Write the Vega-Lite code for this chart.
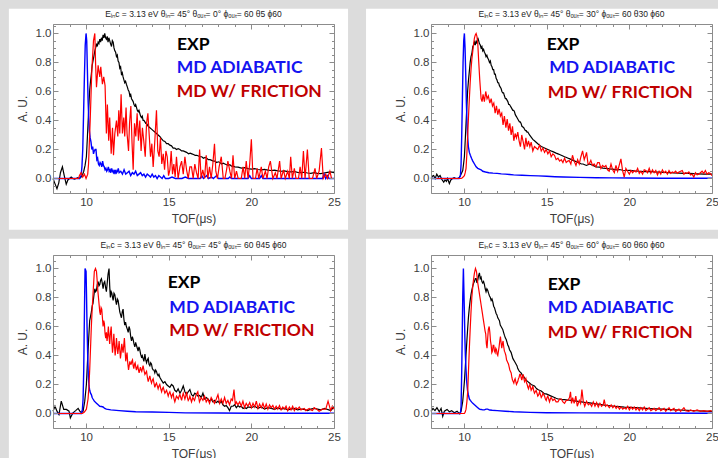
{
"$schema": "https://vega.github.io/schema/vega-lite/v6.json",
"background": "#dcdcdc",
"padding": {"left": 8, "top": 8, "right": 0, "bottom": 0},
"config": {
 "view": {"stroke": null},
 "axis": {"zindex": 2, "grid": false, "domainColor": "#8c8c8c", "tickColor": "#8c8c8c", "labelFont": "Liberation Sans", "labelFontSize": 11.5, "labelColor": "#3c3c3c", "titleFont": "Liberation Sans", "titleFontSize": 12, "titleFontWeight": "normal", "titleColor": "#3c3c3c", "labelFlush": false},
 "title": {"font": "Liberation Sans", "fontSize": 8.5, "fontWeight": "normal", "color": "#222222", "offset": -10}
},
"datasets": {
"lab": [{"p":1,"t":"EXP","x":15.5,"y":0.888},{"p":1,"t":"MD ADIABATIC","x":15.48,"y":0.724},{"p":1,"t":"MD W/ FRICTION","x":15.48,"y":0.559},
{"p":2,"t":"EXP","x":15.0,"y":0.888},{"p":2,"t":"MD ADIABATIC","x":15.15,"y":0.724},{"p":2,"t":"MD W/ FRICTION","x":15.06,"y":0.552},
{"p":3,"t":"EXP","x":14.94,"y":0.862},{"p":3,"t":"MD ADIABATIC","x":15.04,"y":0.695},{"p":3,"t":"MD W/ FRICTION","x":15.04,"y":0.535},
{"p":4,"t":"EXP","x":15.06,"y":0.851},{"p":4,"t":"MD ADIABATIC","x":15.06,"y":0.69},{"p":4,"t":"MD W/ FRICTION","x":15.06,"y":0.518}],
"p1E": [{"x":8,"y":0},{"x":8.1,"y":-0.03},{"x":8.24,"y":-0.07},{"x":8.35,"y":-0.03},{"x":8.45,"y":0.04},{"x":8.57,"y":0.08},{"x":8.68,"y":0.02},{"x":8.8,"y":-0.04},{"x":8.9,"y":-0.01},{"x":9,"y":0},{"x":9.1,"y":0.01},{"x":9.2,"y":0},{"x":9.3,"y":-0.005},{"x":9.4,"y":0},{"x":9.5,"y":0.005},{"x":9.6,"y":0},{"x":9.7,"y":0.01},{"x":9.8,"y":0.03},{"x":9.86,"y":0.05},{"x":9.94,"y":0.09},{"x":10.02,"y":0.15},{"x":10.07,"y":0.26},{"x":10.12,"y":0.38},{"x":10.17,"y":0.5},{"x":10.22,"y":0.61},{"x":10.27,"y":0.67},{"x":10.32,"y":0.72},{"x":10.37,"y":0.78},{"x":10.42,"y":0.81},{"x":10.47,"y":0.84},{"x":10.53,"y":0.88},{"x":10.58,"y":0.9},{"x":10.63,"y":0.93},{"x":10.68,"y":0.91},{"x":10.73,"y":0.94},{"x":10.78,"y":0.93},{"x":10.83,"y":0.96},{"x":10.88,"y":0.94},{"x":10.93,"y":0.97},{"x":10.98,"y":0.95},{"x":11.03,"y":0.99},{"x":11.08,"y":0.97},{"x":11.13,"y":1},{"x":11.18,"y":0.97},{"x":11.23,"y":0.96},{"x":11.28,"y":0.98},{"x":11.33,"y":0.94},{"x":11.38,"y":0.97},{"x":11.43,"y":0.95},{"x":11.48,"y":0.93},{"x":11.54,"y":0.91},{"x":11.59,"y":0.95},{"x":11.64,"y":0.94},{"x":11.69,"y":0.9},{"x":11.74,"y":0.88},{"x":11.79,"y":0.87},{"x":11.84,"y":0.84},{"x":11.89,"y":0.85},{"x":11.94,"y":0.81},{"x":11.99,"y":0.8},{"x":12.04,"y":0.76},{"x":12.09,"y":0.77},{"x":12.14,"y":0.72},{"x":12.19,"y":0.73},{"x":12.24,"y":0.7},{"x":12.29,"y":0.68},{"x":12.34,"y":0.66},{"x":12.39,"y":0.67},{"x":12.44,"y":0.65},{"x":12.5,"y":0.63},{"x":12.55,"y":0.61},{"x":12.6,"y":0.6},{"x":12.65,"y":0.57},{"x":12.7,"y":0.58},{"x":12.75,"y":0.55},{"x":12.8,"y":0.54},{"x":12.85,"y":0.53},{"x":12.9,"y":0.51},{"x":12.95,"y":0.5},{"x":13,"y":0.51},{"x":13.05,"y":0.49},{"x":13.1,"y":0.47},{"x":13.15,"y":0.46},{"x":13.2,"y":0.47},{"x":13.25,"y":0.45},{"x":13.3,"y":0.43},{"x":13.35,"y":0.42},{"x":13.4,"y":0.43},{"x":13.45,"y":0.4},{"x":13.5,"y":0.4},{"x":13.56,"y":0.39},{"x":13.61,"y":0.38},{"x":13.66,"y":0.38},{"x":13.76,"y":0.36},{"x":13.86,"y":0.35},{"x":13.96,"y":0.34},{"x":14.06,"y":0.33},{"x":14.16,"y":0.32},{"x":14.26,"y":0.31},{"x":14.36,"y":0.3},{"x":14.46,"y":0.29},{"x":14.56,"y":0.275},{"x":14.67,"y":0.26},{"x":14.77,"y":0.255},{"x":14.87,"y":0.24},{"x":14.97,"y":0.24},{"x":15.07,"y":0.23},{"x":15.17,"y":0.225},{"x":15.27,"y":0.21},{"x":15.37,"y":0.21},{"x":15.47,"y":0.2},{"x":15.57,"y":0.205},{"x":15.68,"y":0.2},{"x":15.78,"y":0.19},{"x":15.88,"y":0.19},{"x":15.98,"y":0.185},{"x":16.08,"y":0.18},{"x":16.2,"y":0.17},{"x":16.3,"y":0.175},{"x":16.4,"y":0.17},{"x":16.5,"y":0.165},{"x":16.6,"y":0.16},{"x":16.7,"y":0.16},{"x":16.8,"y":0.155},{"x":16.9,"y":0.15},{"x":17,"y":0.15},{"x":17.1,"y":0.14},{"x":17.2,"y":0.145},{"x":17.3,"y":0.14},{"x":17.4,"y":0.13},{"x":17.5,"y":0.13},{"x":17.6,"y":0.125},{"x":17.7,"y":0.12},{"x":17.8,"y":0.12},{"x":17.9,"y":0.11},{"x":18,"y":0.115},{"x":18.1,"y":0.11},{"x":18.2,"y":0.1},{"x":18.3,"y":0.105},{"x":18.4,"y":0.1},{"x":18.5,"y":0.095},{"x":18.6,"y":0.09},{"x":18.7,"y":0.095},{"x":18.8,"y":0.085},{"x":18.9,"y":0.085},{"x":19,"y":0.08},{"x":19.2,"y":0.078},{"x":19.4,"y":0.072},{"x":19.6,"y":0.075},{"x":19.8,"y":0.068},{"x":20,"y":0.065},{"x":20.2,"y":0.068},{"x":20.4,"y":0.062},{"x":20.6,"y":0.06},{"x":20.8,"y":0.063},{"x":21,"y":0.058},{"x":21.2,"y":0.055},{"x":21.4,"y":0.058},{"x":21.6,"y":0.052},{"x":21.8,"y":0.05},{"x":22,"y":0.053},{"x":22.2,"y":0.047},{"x":22.4,"y":0.045},{"x":22.6,"y":0.048},{"x":22.8,"y":0.042},{"x":23,"y":0.04},{"x":23.2,"y":0.043},{"x":23.4,"y":0.038},{"x":23.6,"y":0.036},{"x":23.8,"y":0.04},{"x":24,"y":0.035},{"x":24.2,"y":0.033},{"x":24.4,"y":0.038},{"x":24.6,"y":0.042},{"x":24.8,"y":0.045},{"x":25,"y":0.04}],
"p1A": [{"x":8,"y":0},{"x":9.6,"y":0},{"x":9.7,"y":0.02},{"x":9.75,"y":0.08},{"x":9.8,"y":0.2},{"x":9.85,"y":0.45},{"x":9.9,"y":0.7},{"x":9.95,"y":0.92},{"x":10,"y":1},{"x":10.04,"y":0.95},{"x":10.08,"y":0.75},{"x":10.12,"y":0.55},{"x":10.16,"y":0.42},{"x":10.2,"y":0.33},{"x":10.25,"y":0.28},{"x":10.3,"y":0.25},{"x":10.35,"y":0.2},{"x":10.4,"y":0.22},{"x":10.45,"y":0.17},{"x":10.5,"y":0.19},{"x":10.55,"y":0.2},{"x":10.6,"y":0.2},{"x":10.65,"y":0.13},{"x":10.7,"y":0.14},{"x":10.75,"y":0.1},{"x":10.8,"y":0.09},{"x":10.85,"y":0.11},{"x":10.9,"y":0.1},{"x":10.95,"y":0.08},{"x":11,"y":0.12},{"x":11.05,"y":0.09},{"x":11.1,"y":0.08},{"x":11.15,"y":0.06},{"x":11.2,"y":0.07},{"x":11.25,"y":0.05},{"x":11.3,"y":0.06},{"x":11.35,"y":0.08},{"x":11.4,"y":0.05},{"x":11.45,"y":0.06},{"x":11.5,"y":0.04},{"x":11.55,"y":0.07},{"x":11.6,"y":0.05},{"x":11.65,"y":0.04},{"x":11.7,"y":0.06},{"x":11.75,"y":0.03},{"x":11.8,"y":0.06},{"x":11.85,"y":0.04},{"x":11.9,"y":0.05},{"x":11.95,"y":0.07},{"x":12,"y":0.04},{"x":12.1,"y":0.05},{"x":12.2,"y":0.03},{"x":12.3,"y":0.06},{"x":12.4,"y":0.03},{"x":12.5,"y":0.04},{"x":12.6,"y":0.05},{"x":12.7,"y":0.02},{"x":12.8,"y":0.04},{"x":12.9,"y":0.03},{"x":13,"y":0.05},{"x":13.1,"y":0.02},{"x":13.2,"y":0.03},{"x":13.3,"y":0.04},{"x":13.4,"y":0.02},{"x":13.5,"y":0.03},{"x":13.6,"y":0.01},{"x":13.7,"y":0.03},{"x":13.8,"y":0.02},{"x":13.9,"y":0.01},{"x":14,"y":0.03},{"x":14.1,"y":0.01},{"x":14.2,"y":0.02},{"x":14.3,"y":0},{"x":14.4,"y":0.02},{"x":14.5,"y":0.01},{"x":14.6,"y":0},{"x":14.7,"y":0.02},{"x":14.8,"y":0},{"x":15,"y":0},{"x":15.2,"y":0.01},{"x":15.4,"y":0},{"x":15.8,"y":0},{"x":16,"y":0.01},{"x":16.2,"y":0},{"x":16.9,"y":0},{"x":17,"y":0.02},{"x":17.1,"y":0},{"x":17.3,"y":0.02},{"x":17.4,"y":0},{"x":17.6,"y":0.01},{"x":17.7,"y":0},{"x":17.9,"y":0.02},{"x":18,"y":0},{"x":18.6,"y":0},{"x":18.7,"y":0.01},{"x":18.8,"y":0},{"x":19.8,"y":0},{"x":19.9,"y":0.02},{"x":20,"y":0},{"x":20.5,"y":0},{"x":20.6,"y":0.02},{"x":20.7,"y":0},{"x":24.3,"y":0},{"x":24.4,"y":0.03},{"x":24.5,"y":0},{"x":24.6,"y":0.02},{"x":24.7,"y":0},{"x":25,"y":0}],
"p1F": [{"x":8,"y":0},{"x":9.55,"y":0},{"x":9.6,"y":0.02},{"x":9.7,"y":0.04},{"x":9.8,"y":0.01},{"x":9.9,"y":0.03},{"x":10,"y":0},{"x":10.1,"y":0.03},{"x":10.15,"y":0.1},{"x":10.25,"y":0.4},{"x":10.35,"y":0.75},{"x":10.45,"y":0.95},{"x":10.53,"y":1},{"x":10.58,"y":0.78},{"x":10.63,"y":0.63},{"x":10.73,"y":0.78},{"x":10.83,"y":0.7},{"x":10.89,"y":0.77},{"x":10.99,"y":0.65},{"x":11.07,"y":0.7},{"x":11.15,"y":0.64},{"x":11.23,"y":0.31},{"x":11.29,"y":0.51},{"x":11.37,"y":0.26},{"x":11.43,"y":0.42},{"x":11.52,"y":0.17},{"x":11.6,"y":0.35},{"x":11.66,"y":0.16},{"x":11.74,"y":0.31},{"x":11.84,"y":0.4},{"x":11.92,"y":0.29},{"x":11.98,"y":0.47},{"x":12.04,"y":0.31},{"x":12.12,"y":0.58},{"x":12.2,"y":0.31},{"x":12.28,"y":0.42},{"x":12.34,"y":0.29},{"x":12.42,"y":0.49},{"x":12.48,"y":0.31},{"x":12.57,"y":0.19},{"x":12.63,"y":0.38},{"x":12.71,"y":0.5},{"x":12.78,"y":0.25},{"x":12.85,"y":0.06},{"x":12.93,"y":0.38},{"x":13.01,"y":0.29},{"x":13.09,"y":0.45},{"x":13.17,"y":0.26},{"x":13.25,"y":0.4},{"x":13.33,"y":0.19},{"x":13.41,"y":0.35},{"x":13.49,"y":0.26},{"x":13.58,"y":0.15},{"x":13.66,"y":0.38},{"x":13.74,"y":0.45},{"x":13.82,"y":0.3},{"x":13.9,"y":0.15},{"x":13.98,"y":0.24},{"x":14.06,"y":0.08},{"x":14.16,"y":0.26},{"x":14.26,"y":0.47},{"x":14.34,"y":0.19},{"x":14.42,"y":0.15},{"x":14.5,"y":0.28},{"x":14.58,"y":0.1},{"x":14.67,"y":0.17},{"x":14.75,"y":0.06},{"x":14.83,"y":0.19},{"x":14.91,"y":0.15},{"x":14.99,"y":0.02},{"x":15.07,"y":0.06},{"x":15.15,"y":0.19},{"x":15.23,"y":0.03},{"x":15.31,"y":0.1},{"x":15.39,"y":0.01},{"x":15.47,"y":0.15},{"x":15.57,"y":0},{"x":15.68,"y":0.08},{"x":15.78,"y":0.12},{"x":15.88,"y":0.03},{"x":15.98,"y":0.15},{"x":16.08,"y":0.06},{"x":16.18,"y":0},{"x":16.28,"y":0.08},{"x":16.38,"y":0.08},{"x":16.48,"y":0},{"x":16.58,"y":0.1},{"x":16.68,"y":0.04},{"x":16.78,"y":0},{"x":16.87,"y":0.2},{"x":16.96,"y":0},{"x":17.06,"y":0.06},{"x":17.17,"y":0},{"x":17.27,"y":0.16},{"x":17.37,"y":0},{"x":17.47,"y":0.08},{"x":17.57,"y":0},{"x":17.67,"y":0.1},{"x":17.77,"y":0.24},{"x":17.85,"y":0.05},{"x":17.95,"y":0},{"x":18.05,"y":0.08},{"x":18.18,"y":0.15},{"x":18.3,"y":0},{"x":18.4,"y":0},{"x":18.5,"y":0.06},{"x":18.58,"y":0.12},{"x":18.7,"y":0.05},{"x":18.8,"y":0},{"x":18.89,"y":0.16},{"x":18.99,"y":0},{"x":19.1,"y":0.05},{"x":19.2,"y":0},{"x":19.39,"y":0},{"x":19.5,"y":0.08},{"x":19.6,"y":0},{"x":19.69,"y":0.12},{"x":19.8,"y":0},{"x":19.9,"y":0.1},{"x":20,"y":0.27},{"x":20.1,"y":0},{"x":20.25,"y":0},{"x":20.35,"y":0.07},{"x":20.45,"y":0},{"x":20.6,"y":0.08},{"x":20.7,"y":0},{"x":20.85,"y":0.05},{"x":20.95,"y":0},{"x":21.05,"y":0.08},{"x":21.15,"y":0.12},{"x":21.3,"y":0},{"x":21.45,"y":0.04},{"x":21.55,"y":0},{"x":21.71,"y":0.12},{"x":21.8,"y":0},{"x":21.95,"y":0.06},{"x":22.05,"y":0},{"x":22.2,"y":0.05},{"x":22.3,"y":0},{"x":22.38,"y":0.15},{"x":22.48,"y":0},{"x":22.6,"y":0.07},{"x":22.7,"y":0},{"x":22.85,"y":0},{"x":22.95,"y":0.08},{"x":23.05,"y":0},{"x":23.15,"y":0.19},{"x":23.25,"y":0},{"x":23.39,"y":0.2},{"x":23.5,"y":0},{"x":23.7,"y":0},{"x":23.85,"y":0.07},{"x":23.95,"y":0},{"x":24.1,"y":0.05},{"x":24.24,"y":0.21},{"x":24.35,"y":0},{"x":24.5,"y":0.03},{"x":24.6,"y":0},{"x":24.75,"y":0.05},{"x":24.85,"y":0},{"x":25,"y":0}],
"p2E": [{"x":8,"y":0},{"x":8.08,"y":0.015},{"x":8.16,"y":0.02},{"x":8.25,"y":0},{"x":8.35,"y":0.03},{"x":8.45,"y":0.01},{"x":8.55,"y":0.02},{"x":8.65,"y":-0.005},{"x":8.77,"y":-0.025},{"x":8.85,"y":-0.01},{"x":8.93,"y":-0.02},{"x":9,"y":0},{"x":9.11,"y":-0.035},{"x":9.2,"y":-0.01},{"x":9.3,"y":0},{"x":9.4,"y":0.005},{"x":9.5,"y":0},{"x":9.6,"y":0},{"x":9.7,"y":0.005},{"x":9.78,"y":0.02},{"x":9.86,"y":0.04},{"x":9.92,"y":0.055},{"x":9.97,"y":0.1},{"x":10.02,"y":0.15},{"x":10.07,"y":0.26},{"x":10.12,"y":0.38},{"x":10.17,"y":0.5},{"x":10.22,"y":0.61},{"x":10.27,"y":0.68},{"x":10.32,"y":0.74},{"x":10.37,"y":0.8},{"x":10.42,"y":0.84},{"x":10.47,"y":0.86},{"x":10.53,"y":0.91},{"x":10.58,"y":0.92},{"x":10.63,"y":0.94},{"x":10.68,"y":0.92},{"x":10.73,"y":0.95},{"x":10.78,"y":0.93},{"x":10.83,"y":0.97},{"x":10.88,"y":0.95},{"x":10.93,"y":0.93},{"x":10.98,"y":0.92},{"x":11.03,"y":0.9},{"x":11.08,"y":0.91},{"x":11.13,"y":0.88},{"x":11.18,"y":0.89},{"x":11.23,"y":0.87},{"x":11.28,"y":0.86},{"x":11.33,"y":0.84},{"x":11.38,"y":0.85},{"x":11.43,"y":0.83},{"x":11.48,"y":0.82},{"x":11.54,"y":0.8},{"x":11.59,"y":0.81},{"x":11.64,"y":0.78},{"x":11.69,"y":0.77},{"x":11.74,"y":0.75},{"x":11.79,"y":0.75},{"x":11.84,"y":0.72},{"x":11.89,"y":0.72},{"x":11.94,"y":0.69},{"x":11.99,"y":0.68},{"x":12.04,"y":0.66},{"x":12.09,"y":0.66},{"x":12.14,"y":0.64},{"x":12.19,"y":0.63},{"x":12.24,"y":0.62},{"x":12.29,"y":0.6},{"x":12.34,"y":0.59},{"x":12.39,"y":0.59},{"x":12.44,"y":0.57},{"x":12.5,"y":0.55},{"x":12.55,"y":0.55},{"x":12.6,"y":0.54},{"x":12.65,"y":0.53},{"x":12.7,"y":0.51},{"x":12.75,"y":0.51},{"x":12.8,"y":0.5},{"x":12.85,"y":0.49},{"x":12.9,"y":0.48},{"x":12.95,"y":0.47},{"x":13,"y":0.47},{"x":13.05,"y":0.46},{"x":13.1,"y":0.44},{"x":13.15,"y":0.43},{"x":13.2,"y":0.42},{"x":13.25,"y":0.41},{"x":13.3,"y":0.4},{"x":13.35,"y":0.39},{"x":13.4,"y":0.39},{"x":13.45,"y":0.38},{"x":13.5,"y":0.36},{"x":13.56,"y":0.355},{"x":13.61,"y":0.35},{"x":13.66,"y":0.34},{"x":13.71,"y":0.33},{"x":13.76,"y":0.33},{"x":13.81,"y":0.32},{"x":13.86,"y":0.32},{"x":13.96,"y":0.3},{"x":14.06,"y":0.285},{"x":14.16,"y":0.27},{"x":14.26,"y":0.26},{"x":14.36,"y":0.25},{"x":14.46,"y":0.24},{"x":14.56,"y":0.23},{"x":14.67,"y":0.22},{"x":14.77,"y":0.215},{"x":14.87,"y":0.21},{"x":14.97,"y":0.205},{"x":15.07,"y":0.2},{"x":15.17,"y":0.195},{"x":15.27,"y":0.19},{"x":15.37,"y":0.185},{"x":15.47,"y":0.18},{"x":15.57,"y":0.175},{"x":15.68,"y":0.17},{"x":15.78,"y":0.165},{"x":15.88,"y":0.16},{"x":15.98,"y":0.155},{"x":16.08,"y":0.15},{"x":16.2,"y":0.145},{"x":16.3,"y":0.14},{"x":16.4,"y":0.135},{"x":16.5,"y":0.13},{"x":16.6,"y":0.125},{"x":16.7,"y":0.12},{"x":16.8,"y":0.115},{"x":16.9,"y":0.11},{"x":17,"y":0.105},{"x":17.1,"y":0.1},{"x":17.2,"y":0.1},{"x":17.3,"y":0.095},{"x":17.4,"y":0.09},{"x":17.5,"y":0.095},{"x":17.6,"y":0.1},{"x":17.7,"y":0.095},{"x":17.8,"y":0.09},{"x":17.9,"y":0.085},{"x":18,"y":0.08},{"x":18.2,"y":0.078},{"x":18.4,"y":0.072},{"x":18.6,"y":0.07},{"x":18.8,"y":0.066},{"x":19,"y":0.064},{"x":19.2,"y":0.06},{"x":19.4,"y":0.062},{"x":19.6,"y":0.057},{"x":19.8,"y":0.055},{"x":20,"y":0.056},{"x":20.3,"y":0.052},{"x":20.6,"y":0.05},{"x":20.9,"y":0.048},{"x":21.2,"y":0.049},{"x":21.5,"y":0.045},{"x":21.8,"y":0.044},{"x":22.1,"y":0.042},{"x":22.4,"y":0.041},{"x":22.7,"y":0.038},{"x":23,"y":0.037},{"x":23.3,"y":0.035},{"x":23.6,"y":0.036},{"x":23.9,"y":0.033},{"x":24.2,"y":0.032},{"x":24.5,"y":0.03},{"x":24.8,"y":0.031},{"x":25,"y":0.03}],
"p2A": [{"x":8,"y":0},{"x":9.7,"y":0},{"x":9.78,"y":0.02},{"x":9.82,"y":0.1},{"x":9.86,"y":0.3},{"x":9.9,"y":0.55},{"x":9.94,"y":0.8},{"x":9.98,"y":0.95},{"x":10.02,"y":1},{"x":10.06,"y":0.9},{"x":10.1,"y":0.72},{"x":10.14,"y":0.52},{"x":10.18,"y":0.38},{"x":10.22,"y":0.28},{"x":10.26,"y":0.22},{"x":10.32,"y":0.18},{"x":10.38,"y":0.16},{"x":10.45,"y":0.14},{"x":10.53,"y":0.12},{"x":10.63,"y":0.1},{"x":10.73,"y":0.08},{"x":10.83,"y":0.07},{"x":10.93,"y":0.065},{"x":11.03,"y":0.06},{"x":11.13,"y":0.05},{"x":11.3,"y":0.045},{"x":11.5,"y":0.04},{"x":11.75,"y":0.037},{"x":12,"y":0.035},{"x":12.25,"y":0.032},{"x":12.5,"y":0.03},{"x":12.75,"y":0.028},{"x":13,"y":0.025},{"x":13.5,"y":0.022},{"x":14,"y":0.02},{"x":14.5,"y":0.018},{"x":15,"y":0.015},{"x":15.5,"y":0.012},{"x":16,"y":0.01},{"x":17,"y":0.008},{"x":18,"y":0.005},{"x":19,"y":0.004},{"x":20,"y":0.003},{"x":22,"y":0.002},{"x":25,"y":0.002}],
"p2F": [{"x":8,"y":0},{"x":9.82,"y":0},{"x":9.9,"y":0.005},{"x":10.02,"y":0.02},{"x":10.07,"y":0.04},{"x":10.12,"y":0.07},{"x":10.17,"y":0.17},{"x":10.22,"y":0.3},{"x":10.27,"y":0.43},{"x":10.32,"y":0.55},{"x":10.37,"y":0.66},{"x":10.42,"y":0.75},{"x":10.47,"y":0.82},{"x":10.53,"y":0.88},{"x":10.58,"y":0.93},{"x":10.63,"y":0.97},{"x":10.68,"y":0.99},{"x":10.73,"y":1},{"x":10.78,"y":0.98},{"x":10.83,"y":0.93},{"x":10.89,"y":0.8},{"x":10.95,"y":0.68},{"x":11.03,"y":0.55},{"x":11.09,"y":0.53},{"x":11.15,"y":0.58},{"x":11.23,"y":0.53},{"x":11.31,"y":0.6},{"x":11.39,"y":0.55},{"x":11.47,"y":0.57},{"x":11.56,"y":0.52},{"x":11.64,"y":0.55},{"x":11.72,"y":0.5},{"x":11.8,"y":0.52},{"x":11.88,"y":0.45},{"x":11.96,"y":0.5},{"x":12.04,"y":0.44},{"x":12.12,"y":0.48},{"x":12.2,"y":0.43},{"x":12.28,"y":0.45},{"x":12.36,"y":0.37},{"x":12.44,"y":0.43},{"x":12.53,"y":0.35},{"x":12.61,"y":0.41},{"x":12.69,"y":0.33},{"x":12.77,"y":0.38},{"x":12.85,"y":0.3},{"x":12.93,"y":0.36},{"x":13.01,"y":0.26},{"x":13.09,"y":0.31},{"x":13.17,"y":0.28},{"x":13.25,"y":0.32},{"x":13.33,"y":0.26},{"x":13.41,"y":0.22},{"x":13.49,"y":0.3},{"x":13.58,"y":0.25},{"x":13.66,"y":0.2},{"x":13.74,"y":0.28},{"x":13.82,"y":0.22},{"x":13.9,"y":0.26},{"x":13.98,"y":0.22},{"x":14.06,"y":0.25},{"x":14.16,"y":0.19},{"x":14.26,"y":0.22},{"x":14.36,"y":0.21},{"x":14.46,"y":0.2},{"x":14.57,"y":0.23},{"x":14.67,"y":0.19},{"x":14.77,"y":0.21},{"x":14.87,"y":0.18},{"x":14.97,"y":0.2},{"x":15.07,"y":0.17},{"x":15.17,"y":0.19},{"x":15.27,"y":0.15},{"x":15.37,"y":0.17},{"x":15.47,"y":0.16},{"x":15.57,"y":0.13},{"x":15.68,"y":0.14},{"x":15.78,"y":0.12},{"x":15.88,"y":0.13},{"x":15.98,"y":0.11},{"x":16.08,"y":0.14},{"x":16.18,"y":0.11},{"x":16.28,"y":0.12},{"x":16.36,"y":0.124},{"x":16.46,"y":0.1},{"x":16.56,"y":0.16},{"x":16.66,"y":0.12},{"x":16.77,"y":0.09},{"x":16.87,"y":0.13},{"x":16.97,"y":0.1},{"x":17.07,"y":0.15},{"x":17.17,"y":0.19},{"x":17.27,"y":0.13},{"x":17.36,"y":0.16},{"x":17.41,"y":0.18},{"x":17.5,"y":0.1},{"x":17.57,"y":0.1},{"x":17.67,"y":0.125},{"x":17.77,"y":0.09},{"x":17.87,"y":0.1},{"x":17.98,"y":0.08},{"x":18.08,"y":0.11},{"x":18.18,"y":0.11},{"x":18.28,"y":0.07},{"x":18.38,"y":0.09},{"x":18.48,"y":0.08},{"x":18.58,"y":0.09},{"x":18.68,"y":0.06},{"x":18.78,"y":0.05},{"x":18.89,"y":0.1},{"x":18.99,"y":0.06},{"x":19.09,"y":0.04},{"x":19.19,"y":0.09},{"x":19.29,"y":0.05},{"x":19.49,"y":0.135},{"x":19.59,"y":0.055},{"x":19.69,"y":0.01},{"x":19.79,"y":0.07},{"x":19.89,"y":0.05},{"x":20,"y":0.03},{"x":20.1,"y":0.055},{"x":20.2,"y":0.04},{"x":20.3,"y":0.055},{"x":20.4,"y":0.045},{"x":20.5,"y":0.07},{"x":20.6,"y":0.035},{"x":20.7,"y":0.05},{"x":20.8,"y":0.03},{"x":20.9,"y":0.06},{"x":21,"y":0.055},{"x":21.1,"y":0.04},{"x":21.2,"y":0.07},{"x":21.3,"y":0.035},{"x":21.4,"y":0.06},{"x":21.5,"y":0.04},{"x":21.6,"y":0.055},{"x":21.7,"y":0.025},{"x":21.8,"y":0.05},{"x":21.9,"y":0.03},{"x":22,"y":0.06},{"x":22.1,"y":0.04},{"x":22.2,"y":0.05},{"x":22.3,"y":0.03},{"x":22.4,"y":0.055},{"x":22.5,"y":0.035},{"x":22.6,"y":0.045},{"x":22.7,"y":0.04},{"x":22.8,"y":0.05},{"x":22.9,"y":0.035},{"x":23,"y":0.045},{"x":23.1,"y":0.05},{"x":23.2,"y":0.055},{"x":23.3,"y":0.03},{"x":23.4,"y":0.04},{"x":23.5,"y":0.035},{"x":23.6,"y":0.045},{"x":23.7,"y":0.025},{"x":23.8,"y":0.03},{"x":23.9,"y":0.01},{"x":24,"y":0.04},{"x":24.1,"y":0.025},{"x":24.2,"y":0.03},{"x":24.4,"y":0.05},{"x":24.5,"y":0.035},{"x":24.6,"y":0.055},{"x":24.7,"y":0.03},{"x":24.8,"y":0.04},{"x":24.9,"y":0.035},{"x":25,"y":0.02}],
"p3E": [{"x":8,"y":0.015},{"x":8.12,"y":0.05},{"x":8.24,"y":0.016},{"x":8.36,"y":-0.007},{"x":8.5,"y":0.085},{"x":8.65,"y":0.028},{"x":8.81,"y":0.028},{"x":8.97,"y":0.016},{"x":9.05,"y":-0.03},{"x":9.21,"y":0.005},{"x":9.37,"y":0.02},{"x":9.52,"y":0.035},{"x":9.62,"y":0.016},{"x":9.72,"y":0.005},{"x":9.82,"y":0.016},{"x":9.92,"y":0.085},{"x":10.02,"y":0.2},{"x":10.07,"y":0.32},{"x":10.12,"y":0.43},{"x":10.17,"y":0.54},{"x":10.22,"y":0.64},{"x":10.27,"y":0.67},{"x":10.32,"y":0.7},{"x":10.37,"y":0.74},{"x":10.42,"y":0.76},{"x":10.47,"y":0.81},{"x":10.53,"y":0.86},{"x":10.58,"y":0.84},{"x":10.63,"y":0.85},{"x":10.68,"y":0.89},{"x":10.73,"y":0.91},{"x":10.78,"y":0.88},{"x":10.83,"y":0.89},{"x":10.88,"y":0.92},{"x":10.93,"y":0.93},{"x":10.98,"y":0.9},{"x":11.03,"y":0.86},{"x":11.08,"y":0.9},{"x":11.13,"y":0.91},{"x":11.18,"y":0.87},{"x":11.23,"y":0.84},{"x":11.28,"y":0.9},{"x":11.33,"y":0.96},{"x":11.39,"y":1},{"x":11.43,"y":0.88},{"x":11.47,"y":0.8},{"x":11.52,"y":0.84},{"x":11.56,"y":0.83},{"x":11.6,"y":0.8},{"x":11.64,"y":0.78},{"x":11.69,"y":0.83},{"x":11.74,"y":0.82},{"x":11.79,"y":0.78},{"x":11.84,"y":0.75},{"x":11.89,"y":0.79},{"x":11.94,"y":0.78},{"x":11.99,"y":0.74},{"x":12.04,"y":0.7},{"x":12.09,"y":0.68},{"x":12.14,"y":0.66},{"x":12.19,"y":0.7},{"x":12.24,"y":0.72},{"x":12.29,"y":0.65},{"x":12.34,"y":0.61},{"x":12.39,"y":0.63},{"x":12.44,"y":0.6},{"x":12.5,"y":0.58},{"x":12.55,"y":0.56},{"x":12.6,"y":0.6},{"x":12.65,"y":0.58},{"x":12.7,"y":0.53},{"x":12.75,"y":0.5},{"x":12.8,"y":0.53},{"x":12.85,"y":0.51},{"x":12.9,"y":0.48},{"x":12.95,"y":0.46},{"x":13,"y":0.49},{"x":13.05,"y":0.47},{"x":13.1,"y":0.45},{"x":13.15,"y":0.43},{"x":13.2,"y":0.46},{"x":13.25,"y":0.44},{"x":13.3,"y":0.41},{"x":13.35,"y":0.39},{"x":13.4,"y":0.4},{"x":13.45,"y":0.38},{"x":13.5,"y":0.36},{"x":13.56,"y":0.41},{"x":13.61,"y":0.37},{"x":13.66,"y":0.35},{"x":13.71,"y":0.37},{"x":13.76,"y":0.38},{"x":13.81,"y":0.34},{"x":13.86,"y":0.33},{"x":13.91,"y":0.35},{"x":13.96,"y":0.34},{"x":14.01,"y":0.31},{"x":14.06,"y":0.3},{"x":14.11,"y":0.3},{"x":14.16,"y":0.28},{"x":14.21,"y":0.3},{"x":14.26,"y":0.29},{"x":14.31,"y":0.27},{"x":14.36,"y":0.26},{"x":14.41,"y":0.27},{"x":14.46,"y":0.25},{"x":14.56,"y":0.23},{"x":14.67,"y":0.21},{"x":14.77,"y":0.22},{"x":14.87,"y":0.2},{"x":14.97,"y":0.19},{"x":15.07,"y":0.18},{"x":15.17,"y":0.2},{"x":15.27,"y":0.19},{"x":15.37,"y":0.16},{"x":15.47,"y":0.15},{"x":15.57,"y":0.17},{"x":15.68,"y":0.14},{"x":15.78,"y":0.16},{"x":15.88,"y":0.19},{"x":15.98,"y":0.15},{"x":16.08,"y":0.13},{"x":16.18,"y":0.15},{"x":16.28,"y":0.165},{"x":16.38,"y":0.13},{"x":16.48,"y":0.12},{"x":16.58,"y":0.14},{"x":16.69,"y":0.13},{"x":16.76,"y":0.12},{"x":16.87,"y":0.125},{"x":16.97,"y":0.11},{"x":17.07,"y":0.14},{"x":17.17,"y":0.1},{"x":17.27,"y":0.11},{"x":17.37,"y":0.1},{"x":17.47,"y":0.085},{"x":17.57,"y":0.1},{"x":17.67,"y":0.08},{"x":17.77,"y":0.09},{"x":17.87,"y":0.075},{"x":17.98,"y":0.085},{"x":18.08,"y":0.07},{"x":18.18,"y":0.085},{"x":18.28,"y":0.06},{"x":18.38,"y":0.05},{"x":18.48,"y":0.055},{"x":18.58,"y":0.04},{"x":18.68,"y":0.02},{"x":18.78,"y":0.05},{"x":18.89,"y":0.05},{"x":18.99,"y":0.06},{"x":19.09,"y":0.04},{"x":19.19,"y":0.055},{"x":19.29,"y":0.045},{"x":19.39,"y":0.05},{"x":19.5,"y":0.035},{"x":19.6,"y":0.04},{"x":19.7,"y":0.035},{"x":19.8,"y":0.045},{"x":20,"y":0.04},{"x":20.2,"y":0.05},{"x":20.4,"y":0.035},{"x":20.6,"y":0.045},{"x":20.8,"y":0.03},{"x":21,"y":0.04},{"x":21.2,"y":0.035},{"x":21.4,"y":0.028},{"x":21.6,"y":0.038},{"x":21.8,"y":0.03},{"x":22,"y":0.035},{"x":22.2,"y":0.025},{"x":22.4,"y":0.03},{"x":22.6,"y":0.035},{"x":22.8,"y":0.025},{"x":23,"y":0.03},{"x":23.2,"y":0.028},{"x":23.4,"y":0.02},{"x":23.6,"y":0.03},{"x":23.8,"y":0.035},{"x":24,"y":0.03},{"x":24.2,"y":0.025},{"x":24.44,"y":0.035},{"x":24.6,"y":0.028},{"x":24.8,"y":0.02},{"x":25,"y":0.045}],
"p3A": [{"x":8,"y":0},{"x":9.72,"y":0},{"x":9.78,"y":0.03},{"x":9.82,"y":0.1},{"x":9.86,"y":0.3},{"x":9.88,"y":0.5},{"x":9.92,"y":0.85},{"x":9.94,"y":1},{"x":10,"y":0.98},{"x":10.03,"y":0.8},{"x":10.06,"y":0.6},{"x":10.1,"y":0.4},{"x":10.14,"y":0.25},{"x":10.18,"y":0.19},{"x":10.22,"y":0.16},{"x":10.27,"y":0.14},{"x":10.32,"y":0.13},{"x":10.37,"y":0.11},{"x":10.42,"y":0.1},{"x":10.5,"y":0.085},{"x":10.63,"y":0.07},{"x":10.73,"y":0.06},{"x":10.83,"y":0.05},{"x":10.93,"y":0.048},{"x":11.03,"y":0.045},{"x":11.13,"y":0.035},{"x":11.23,"y":0.03},{"x":11.5,"y":0.025},{"x":12,"y":0.02},{"x":12.5,"y":0.016},{"x":13,"y":0.012},{"x":14,"y":0.01},{"x":15,"y":0.008},{"x":16,"y":0.004},{"x":18,"y":0.003},{"x":20,"y":0.002},{"x":25,"y":0.002}],
"p3F": [{"x":8,"y":0},{"x":9.78,"y":0},{"x":9.9,"y":0.01},{"x":10.02,"y":0.03},{"x":10.12,"y":0.1},{"x":10.17,"y":0.18},{"x":10.22,"y":0.3},{"x":10.27,"y":0.45},{"x":10.32,"y":0.6},{"x":10.37,"y":0.72},{"x":10.42,"y":0.82},{"x":10.46,"y":0.9},{"x":10.5,"y":0.98},{"x":10.57,"y":1},{"x":10.63,"y":0.98},{"x":10.67,"y":0.92},{"x":10.71,"y":0.85},{"x":10.75,"y":0.8},{"x":10.79,"y":0.75},{"x":10.83,"y":0.7},{"x":10.87,"y":0.68},{"x":10.91,"y":0.73},{"x":10.95,"y":0.72},{"x":10.99,"y":0.66},{"x":11.03,"y":0.6},{"x":11.07,"y":0.64},{"x":11.11,"y":0.62},{"x":11.15,"y":0.55},{"x":11.19,"y":0.52},{"x":11.23,"y":0.56},{"x":11.27,"y":0.5},{"x":11.31,"y":0.54},{"x":11.35,"y":0.6},{"x":11.39,"y":0.53},{"x":11.43,"y":0.48},{"x":11.47,"y":0.55},{"x":11.52,"y":0.6},{"x":11.56,"y":0.5},{"x":11.6,"y":0.42},{"x":11.64,"y":0.47},{"x":11.68,"y":0.55},{"x":11.72,"y":0.47},{"x":11.76,"y":0.4},{"x":11.8,"y":0.45},{"x":11.84,"y":0.52},{"x":11.88,"y":0.46},{"x":11.92,"y":0.41},{"x":11.96,"y":0.45},{"x":12,"y":0.5},{"x":12.04,"y":0.44},{"x":12.08,"y":0.38},{"x":12.12,"y":0.42},{"x":12.16,"y":0.48},{"x":12.2,"y":0.45},{"x":12.24,"y":0.42},{"x":12.28,"y":0.47},{"x":12.32,"y":0.52},{"x":12.36,"y":0.44},{"x":12.4,"y":0.36},{"x":12.44,"y":0.39},{"x":12.48,"y":0.42},{"x":12.52,"y":0.35},{"x":12.57,"y":0.3},{"x":12.61,"y":0.33},{"x":12.65,"y":0.36},{"x":12.69,"y":0.34},{"x":12.73,"y":0.34},{"x":12.77,"y":0.36},{"x":12.81,"y":0.37},{"x":12.85,"y":0.33},{"x":12.89,"y":0.31},{"x":12.93,"y":0.34},{"x":12.97,"y":0.35},{"x":13.01,"y":0.32},{"x":13.05,"y":0.3},{"x":13.09,"y":0.32},{"x":13.13,"y":0.33},{"x":13.17,"y":0.3},{"x":13.21,"y":0.28},{"x":13.25,"y":0.3},{"x":13.29,"y":0.32},{"x":13.33,"y":0.3},{"x":13.37,"y":0.29},{"x":13.41,"y":0.31},{"x":13.45,"y":0.33},{"x":13.5,"y":0.3},{"x":13.56,"y":0.27},{"x":13.61,"y":0.28},{"x":13.66,"y":0.29},{"x":13.71,"y":0.25},{"x":13.76,"y":0.22},{"x":13.81,"y":0.24},{"x":13.86,"y":0.26},{"x":13.91,"y":0.23},{"x":13.96,"y":0.21},{"x":14.01,"y":0.23},{"x":14.06,"y":0.24},{"x":14.11,"y":0.21},{"x":14.16,"y":0.18},{"x":14.21,"y":0.2},{"x":14.26,"y":0.21},{"x":14.31,"y":0.19},{"x":14.36,"y":0.17},{"x":14.41,"y":0.19},{"x":14.46,"y":0.2},{"x":14.52,"y":0.17},{"x":14.57,"y":0.15},{"x":14.62,"y":0.17},{"x":14.67,"y":0.18},{"x":14.72,"y":0.16},{"x":14.77,"y":0.14},{"x":14.82,"y":0.15},{"x":14.87,"y":0.16},{"x":14.92,"y":0.14},{"x":14.97,"y":0.12},{"x":15.02,"y":0.14},{"x":15.07,"y":0.15},{"x":15.12,"y":0.13},{"x":15.17,"y":0.11},{"x":15.22,"y":0.13},{"x":15.27,"y":0.14},{"x":15.32,"y":0.1},{"x":15.37,"y":0.08},{"x":15.42,"y":0.1},{"x":15.47,"y":0.12},{"x":15.53,"y":0.11},{"x":15.58,"y":0.1},{"x":15.63,"y":0.12},{"x":15.68,"y":0.13},{"x":15.73,"y":0.11},{"x":15.78,"y":0.09},{"x":15.83,"y":0.12},{"x":15.88,"y":0.14},{"x":15.93,"y":0.12},{"x":15.98,"y":0.1},{"x":16.03,"y":0.12},{"x":16.08,"y":0.15},{"x":16.13,"y":0.11},{"x":16.18,"y":0.09},{"x":16.23,"y":0.1},{"x":16.28,"y":0.12},{"x":16.33,"y":0.1},{"x":16.38,"y":0.08},{"x":16.46,"y":0.11},{"x":16.56,"y":0.09},{"x":16.66,"y":0.13},{"x":16.76,"y":0.15},{"x":16.86,"y":0.08},{"x":16.97,"y":0.11},{"x":17.07,"y":0.09},{"x":17.17,"y":0.12},{"x":17.27,"y":0.08},{"x":17.37,"y":0.1},{"x":17.47,"y":0.07},{"x":17.57,"y":0.11},{"x":17.67,"y":0.09},{"x":17.77,"y":0.07},{"x":17.88,"y":0.1},{"x":17.98,"y":0.13},{"x":18.08,"y":0.07},{"x":18.18,"y":0.1},{"x":18.28,"y":0.07},{"x":18.38,"y":0.11},{"x":18.48,"y":0.07},{"x":18.58,"y":0.09},{"x":18.68,"y":0.06},{"x":18.78,"y":0.1},{"x":18.86,"y":0.09},{"x":18.95,"y":0.165},{"x":19.03,"y":0.06},{"x":19.09,"y":0.08},{"x":19.19,"y":0.06},{"x":19.29,"y":0.08},{"x":19.39,"y":0.05},{"x":19.49,"y":0.085},{"x":19.59,"y":0.04},{"x":19.69,"y":0.07},{"x":19.79,"y":0.05},{"x":19.9,"y":0.075},{"x":20,"y":0.04},{"x":20.1,"y":0.07},{"x":20.2,"y":0.045},{"x":20.3,"y":0.085},{"x":20.4,"y":0.035},{"x":20.5,"y":0.065},{"x":20.6,"y":0.04},{"x":20.7,"y":0.07},{"x":20.8,"y":0.035},{"x":20.9,"y":0.065},{"x":21,"y":0.03},{"x":21.1,"y":0.06},{"x":21.2,"y":0.04},{"x":21.3,"y":0.055},{"x":21.4,"y":0.03},{"x":21.5,"y":0.05},{"x":21.6,"y":0.03},{"x":21.7,"y":0.055},{"x":21.8,"y":0.025},{"x":21.9,"y":0.045},{"x":22,"y":0.03},{"x":22.1,"y":0.05},{"x":22.2,"y":0.02},{"x":22.3,"y":0.045},{"x":22.4,"y":0.025},{"x":22.5,"y":0.05},{"x":22.6,"y":0.02},{"x":22.7,"y":0.04},{"x":22.8,"y":0.03},{"x":22.9,"y":0.045},{"x":23,"y":0.025},{"x":23.2,"y":0.035},{"x":23.3,"y":0.02},{"x":23.5,"y":0.035},{"x":23.6,"y":0.025},{"x":23.7,"y":0.02},{"x":23.8,"y":0.04},{"x":24,"y":0.025},{"x":24.1,"y":0.015},{"x":24.3,"y":0.03},{"x":24.5,"y":0.03},{"x":24.64,"y":0.085},{"x":24.8,"y":0.02},{"x":24.9,"y":0.05},{"x":25,"y":0.03}],
"p4E": [{"x":8,"y":0.015},{"x":8.12,"y":0.035},{"x":8.24,"y":0.02},{"x":8.36,"y":0.04},{"x":8.5,"y":0.012},{"x":8.61,"y":0.035},{"x":8.71,"y":-0.02},{"x":8.81,"y":0.016},{"x":8.97,"y":0.028},{"x":9.11,"y":0.012},{"x":9.25,"y":0.02},{"x":9.41,"y":0.005},{"x":9.58,"y":0.016},{"x":9.72,"y":-0.002},{"x":9.82,"y":0.016},{"x":9.92,"y":0.085},{"x":9.97,"y":0.15},{"x":10.02,"y":0.22},{"x":10.07,"y":0.31},{"x":10.12,"y":0.41},{"x":10.17,"y":0.5},{"x":10.22,"y":0.59},{"x":10.27,"y":0.67},{"x":10.32,"y":0.73},{"x":10.37,"y":0.78},{"x":10.42,"y":0.82},{"x":10.47,"y":0.85},{"x":10.53,"y":0.88},{"x":10.58,"y":0.9},{"x":10.63,"y":0.91},{"x":10.68,"y":0.93},{"x":10.73,"y":0.93},{"x":10.78,"y":0.9},{"x":10.83,"y":0.92},{"x":10.88,"y":0.95},{"x":10.93,"y":0.97},{"x":10.98,"y":0.93},{"x":11.03,"y":0.94},{"x":11.08,"y":0.91},{"x":11.13,"y":0.9},{"x":11.18,"y":0.91},{"x":11.23,"y":0.89},{"x":11.28,"y":0.86},{"x":11.33,"y":0.84},{"x":11.38,"y":0.86},{"x":11.43,"y":0.85},{"x":11.48,"y":0.83},{"x":11.54,"y":0.81},{"x":11.59,"y":0.8},{"x":11.64,"y":0.78},{"x":11.69,"y":0.79},{"x":11.74,"y":0.77},{"x":11.79,"y":0.74},{"x":11.84,"y":0.73},{"x":11.89,"y":0.71},{"x":11.94,"y":0.69},{"x":11.99,"y":0.68},{"x":12.04,"y":0.66},{"x":12.09,"y":0.65},{"x":12.14,"y":0.64},{"x":12.19,"y":0.61},{"x":12.24,"y":0.6},{"x":12.29,"y":0.59},{"x":12.34,"y":0.58},{"x":12.39,"y":0.56},{"x":12.44,"y":0.54},{"x":12.5,"y":0.52},{"x":12.55,"y":0.51},{"x":12.6,"y":0.49},{"x":12.65,"y":0.47},{"x":12.7,"y":0.46},{"x":12.75,"y":0.44},{"x":12.8,"y":0.43},{"x":12.85,"y":0.42},{"x":12.9,"y":0.4},{"x":12.95,"y":0.38},{"x":13,"y":0.37},{"x":13.05,"y":0.36},{"x":13.1,"y":0.35},{"x":13.15,"y":0.34},{"x":13.2,"y":0.33},{"x":13.25,"y":0.31},{"x":13.3,"y":0.3},{"x":13.35,"y":0.29},{"x":13.4,"y":0.285},{"x":13.45,"y":0.28},{"x":13.5,"y":0.27},{"x":13.56,"y":0.26},{"x":13.61,"y":0.255},{"x":13.66,"y":0.245},{"x":13.76,"y":0.23},{"x":13.86,"y":0.22},{"x":13.96,"y":0.21},{"x":14.06,"y":0.2},{"x":14.16,"y":0.195},{"x":14.26,"y":0.19},{"x":14.36,"y":0.175},{"x":14.46,"y":0.165},{"x":14.56,"y":0.16},{"x":14.67,"y":0.155},{"x":14.77,"y":0.145},{"x":14.87,"y":0.135},{"x":14.97,"y":0.135},{"x":15.07,"y":0.13},{"x":15.17,"y":0.125},{"x":15.27,"y":0.12},{"x":15.37,"y":0.115},{"x":15.47,"y":0.11},{"x":15.57,"y":0.105},{"x":15.68,"y":0.1},{"x":15.78,"y":0.1},{"x":15.88,"y":0.098},{"x":15.98,"y":0.095},{"x":16.08,"y":0.095},{"x":16.28,"y":0.093},{"x":16.48,"y":0.09},{"x":16.69,"y":0.087},{"x":16.9,"y":0.083},{"x":17.1,"y":0.08},{"x":17.3,"y":0.077},{"x":17.5,"y":0.075},{"x":17.7,"y":0.072},{"x":17.9,"y":0.068},{"x":18.1,"y":0.065},{"x":18.3,"y":0.062},{"x":18.5,"y":0.058},{"x":18.7,"y":0.055},{"x":18.9,"y":0.052},{"x":19.1,"y":0.05},{"x":19.4,"y":0.047},{"x":19.7,"y":0.044},{"x":20,"y":0.042},{"x":20.4,"y":0.04},{"x":20.8,"y":0.037},{"x":21.2,"y":0.034},{"x":21.6,"y":0.032},{"x":22,"y":0.03},{"x":22.5,"y":0.027},{"x":23,"y":0.024},{"x":23.5,"y":0.021},{"x":24,"y":0.019},{"x":24.5,"y":0.017},{"x":25,"y":0.015}],
"p4A": [{"x":8,"y":0},{"x":9.78,"y":0},{"x":9.82,"y":0.05},{"x":9.86,"y":0.3},{"x":9.89,"y":0.55},{"x":9.92,"y":0.8},{"x":9.96,"y":1},{"x":9.99,"y":0.85},{"x":10.02,"y":0.7},{"x":10.05,"y":0.52},{"x":10.08,"y":0.4},{"x":10.12,"y":0.3},{"x":10.16,"y":0.22},{"x":10.21,"y":0.16},{"x":10.26,"y":0.13},{"x":10.32,"y":0.1},{"x":10.38,"y":0.09},{"x":10.45,"y":0.08},{"x":10.53,"y":0.07},{"x":10.63,"y":0.06},{"x":10.73,"y":0.05},{"x":10.83,"y":0.04},{"x":10.93,"y":0.03},{"x":11.03,"y":0.028},{"x":11.13,"y":0.025},{"x":11.23,"y":0.025},{"x":11.33,"y":0.03},{"x":11.43,"y":0.03},{"x":11.55,"y":0.024},{"x":11.7,"y":0.022},{"x":12,"y":0.02},{"x":12.5,"y":0.016},{"x":13,"y":0.012},{"x":14,"y":0.008},{"x":15,"y":0.005},{"x":17,"y":0.004},{"x":20,"y":0.003},{"x":25,"y":0.002}],
"p4F": [{"x":8,"y":0},{"x":10.02,"y":0},{"x":10.07,"y":0.01},{"x":10.12,"y":0.03},{"x":10.17,"y":0.08},{"x":10.22,"y":0.15},{"x":10.27,"y":0.3},{"x":10.32,"y":0.45},{"x":10.37,"y":0.58},{"x":10.42,"y":0.7},{"x":10.47,"y":0.8},{"x":10.53,"y":0.88},{"x":10.58,"y":0.93},{"x":10.63,"y":0.97},{"x":10.69,"y":1},{"x":10.75,"y":0.98},{"x":10.79,"y":0.94},{"x":10.83,"y":0.9},{"x":10.87,"y":0.87},{"x":10.91,"y":0.84},{"x":10.95,"y":0.81},{"x":10.99,"y":0.78},{"x":11.03,"y":0.75},{"x":11.07,"y":0.72},{"x":11.11,"y":0.69},{"x":11.15,"y":0.66},{"x":11.19,"y":0.63},{"x":11.23,"y":0.6},{"x":11.27,"y":0.57},{"x":11.31,"y":0.55},{"x":11.35,"y":0.48},{"x":11.39,"y":0.45},{"x":11.43,"y":0.52},{"x":11.47,"y":0.58},{"x":11.52,"y":0.6},{"x":11.56,"y":0.56},{"x":11.6,"y":0.5},{"x":11.64,"y":0.47},{"x":11.68,"y":0.42},{"x":11.72,"y":0.43},{"x":11.76,"y":0.47},{"x":11.8,"y":0.47},{"x":11.84,"y":0.43},{"x":11.88,"y":0.42},{"x":11.92,"y":0.45},{"x":11.96,"y":0.44},{"x":12,"y":0.41},{"x":12.04,"y":0.4},{"x":12.08,"y":0.43},{"x":12.12,"y":0.46},{"x":12.16,"y":0.5},{"x":12.2,"y":0.53},{"x":12.24,"y":0.49},{"x":12.28,"y":0.45},{"x":12.32,"y":0.48},{"x":12.36,"y":0.5},{"x":12.4,"y":0.46},{"x":12.44,"y":0.43},{"x":12.48,"y":0.42},{"x":12.53,"y":0.4},{"x":12.57,"y":0.37},{"x":12.61,"y":0.36},{"x":12.65,"y":0.35},{"x":12.69,"y":0.34},{"x":12.73,"y":0.32},{"x":12.77,"y":0.3},{"x":12.81,"y":0.29},{"x":12.85,"y":0.28},{"x":12.89,"y":0.25},{"x":12.93,"y":0.23},{"x":12.97,"y":0.22},{"x":13.01,"y":0.21},{"x":13.05,"y":0.23},{"x":13.09,"y":0.24},{"x":13.13,"y":0.22},{"x":13.17,"y":0.2},{"x":13.21,"y":0.21},{"x":13.25,"y":0.22},{"x":13.29,"y":0.24},{"x":13.33,"y":0.25},{"x":13.37,"y":0.27},{"x":13.41,"y":0.27},{"x":13.45,"y":0.25},{"x":13.49,"y":0.23},{"x":13.53,"y":0.25},{"x":13.58,"y":0.27},{"x":13.62,"y":0.24},{"x":13.66,"y":0.22},{"x":13.7,"y":0.23},{"x":13.74,"y":0.24},{"x":13.78,"y":0.21},{"x":13.82,"y":0.2},{"x":13.86,"y":0.18},{"x":13.9,"y":0.17},{"x":13.94,"y":0.19},{"x":13.98,"y":0.2},{"x":14.02,"y":0.18},{"x":14.06,"y":0.16},{"x":14.11,"y":0.17},{"x":14.16,"y":0.19},{"x":14.21,"y":0.16},{"x":14.26,"y":0.14},{"x":14.31,"y":0.15},{"x":14.36,"y":0.16},{"x":14.41,"y":0.14},{"x":14.46,"y":0.12},{"x":14.52,"y":0.13},{"x":14.57,"y":0.15},{"x":14.62,"y":0.13},{"x":14.67,"y":0.11},{"x":14.72,"y":0.12},{"x":14.77,"y":0.14},{"x":14.82,"y":0.13},{"x":14.87,"y":0.12},{"x":14.92,"y":0.1},{"x":14.97,"y":0.09},{"x":15.02,"y":0.11},{"x":15.07,"y":0.12},{"x":15.12,"y":0.1},{"x":15.17,"y":0.08},{"x":15.22,"y":0.1},{"x":15.27,"y":0.11},{"x":15.37,"y":0.09},{"x":15.47,"y":0.1},{"x":15.57,"y":0.08},{"x":15.68,"y":0.08},{"x":15.78,"y":0.1},{"x":15.88,"y":0.1},{"x":15.98,"y":0.08},{"x":16.08,"y":0.07},{"x":16.18,"y":0.09},{"x":16.28,"y":0.09},{"x":16.38,"y":0.11},{"x":16.44,"y":0.15},{"x":16.5,"y":0.07},{"x":16.57,"y":0.11},{"x":16.66,"y":0.07},{"x":16.76,"y":0.12},{"x":16.85,"y":0.05},{"x":16.97,"y":0.09},{"x":17.05,"y":0.07},{"x":17.13,"y":0.165},{"x":17.21,"y":0.085},{"x":17.3,"y":0.05},{"x":17.41,"y":0.085},{"x":17.52,"y":0.06},{"x":17.62,"y":0.07},{"x":17.72,"y":0.05},{"x":17.82,"y":0.08},{"x":17.92,"y":0.05},{"x":18.02,"y":0.075},{"x":18.12,"y":0.045},{"x":18.22,"y":0.07},{"x":18.32,"y":0.05},{"x":18.42,"y":0.06},{"x":18.48,"y":0.096},{"x":18.56,"y":0.05},{"x":18.66,"y":0.06},{"x":18.79,"y":0.04},{"x":18.9,"y":0.06},{"x":19,"y":0.04},{"x":19.1,"y":0.055},{"x":19.2,"y":0.035},{"x":19.3,"y":0.05},{"x":19.4,"y":0.03},{"x":19.5,"y":0.045},{"x":19.6,"y":0.03},{"x":19.7,"y":0.04},{"x":19.8,"y":0.03},{"x":19.9,"y":0.05},{"x":20,"y":0.025},{"x":20.1,"y":0.045},{"x":20.2,"y":0.03},{"x":20.3,"y":0.045},{"x":20.4,"y":0.025},{"x":20.5,"y":0.04},{"x":20.6,"y":0.02},{"x":20.7,"y":0.04},{"x":20.8,"y":0.025},{"x":20.9,"y":0.045},{"x":21,"y":0.02},{"x":21.2,"y":0.04},{"x":21.3,"y":0.02},{"x":21.5,"y":0.035},{"x":21.6,"y":0.02},{"x":21.8,"y":0.04},{"x":21.9,"y":0.02},{"x":22.1,"y":0.035},{"x":22.2,"y":0.015},{"x":22.4,"y":0.04},{"x":22.5,"y":0.02},{"x":22.7,"y":0.035},{"x":22.8,"y":0.015},{"x":23,"y":0.03},{"x":23.1,"y":0.015},{"x":23.3,"y":0.04},{"x":23.4,"y":0.02},{"x":23.6,"y":0.015},{"x":23.7,"y":0.025},{"x":23.9,"y":0.015},{"x":24.1,"y":0.025},{"x":24.3,"y":0.015},{"x":24.5,"y":0.02},{"x":24.7,"y":0.015},{"x":24.9,"y":0.02},{"x":25,"y":0.015}]
},
"resolve": {"scale": {"x": "independent", "y": "independent"}},
"spacing": 8,
"vconcat": [
{"hconcat": [
{"width": 281, "height": 169,
 "title": {"text": "Eᵢₙc = 3.13 eV θᵢₙ= 45° θₒᵤₜ= 0° ϕₒᵤₜ= 60 θ5 ϕ60"},
 "layer": [
  {"data": {"values": [{}]}, "mark": {"type": "rect", "color": "white"}, "encoding": {"x": {"datum": 5.33, "type": "quantitative", "axis": null}, "x2": {"datum": 25.85}, "y": {"datum": 1.17, "type": "quantitative", "axis": null}, "y2": {"datum": -0.353}}},
  {"data": {"name": "p1E"}, "mark": {"type": "line", "color": "#000000", "strokeWidth": 1.2}, "encoding": {
    "x": {"field": "x", "type": "quantitative", "scale": {"domain": [8, 25], "nice": false, "zero": false}, "axis": {"zindex": 2, "orient": "bottom", "values": [10, 15, 20, 25], "tickSize": -5, "labelPadding": 8, "title": "TOF(μs)", "titlePadding": 6}},
    "y": {"field": "y", "type": "quantitative", "scale": {"domain": [-0.1, 1.065], "nice": false, "zero": false}, "axis": {"zindex": 2, "orient": "left", "values": [0, 0.2, 0.4, 0.6, 0.8, 1], "format": ".1f", "tickSize": -5, "labelPadding": 7, "title": "A. U.", "titlePadding": 6}}}},
  {"data": {"name": "p1A"}, "mark": {"type": "line", "color": "#0000ff", "strokeWidth": 1.4}, "encoding": {
    "x": {"field": "x", "type": "quantitative", "axis": {"zindex": 2, "orient": "bottom", "values": [8,9,11,12,13,14,16,17,18,19,21,22,23,24], "tickSize": -2.5, "labels": false, "domain": false, "title": null}},
    "y": {"field": "y", "type": "quantitative", "axis": {"zindex": 2, "orient": "left", "values": [-0.05,0.05,0.1,0.15,0.25,0.3,0.35,0.45,0.5,0.55,0.65,0.7,0.75,0.85,0.9,0.95,1.05], "tickSize": -2.5, "labels": false, "domain": false, "title": null}}}},
  {"data": {"name": "p1F"}, "mark": {"type": "line", "color": "#ff0000", "strokeWidth": 1.2}, "encoding": {
    "x": {"field": "x", "type": "quantitative", "axis": {"zindex": 2, "orient": "top", "values": [10, 15, 20, 25], "tickSize": -5, "labels": false, "title": null}},
    "y": {"field": "y", "type": "quantitative", "axis": {"zindex": 2, "orient": "right", "values": [0, 0.2, 0.4, 0.6, 0.8, 1], "tickSize": -5, "labels": false, "title": null}}}},
  {"data": {"name": "lab"}, "transform": [{"filter": "datum.p == 1"}], "mark": {"type": "text", "align": "left", "baseline": "alphabetic", "font": "Lato", "fontWeight": "bold", "fontSize": 17.5}, "encoding": {
    "x": {"field": "x", "type": "quantitative", "axis": {"zindex": 2, "orient": "top", "values": [8,9,11,12,13,14,16,17,18,19,21,22,23,24], "tickSize": -2.5, "labels": false, "domain": false, "title": null}},
    "y": {"field": "y", "type": "quantitative", "axis": {"zindex": 2, "orient": "right", "values": [-0.05,0.05,0.1,0.15,0.25,0.3,0.35,0.45,0.5,0.55,0.65,0.7,0.75,0.85,0.9,0.95,1.05], "tickSize": -2.5, "labels": false, "domain": false, "title": null}},
    "text": {"field": "t"},
    "color": {"field": "t", "type": "nominal", "scale": {"domain": ["EXP", "MD ADIABATIC", "MD W/ FRICTION"], "range": ["#000000", "#1414f0", "#c00000"]}, "legend": null}}}
 ],
 "resolve": {"axis": {"x": "independent", "y": "independent"}}
},
{"width": 281, "height": 169,
 "title": {"text": "Eᵢₙc = 3.13 eV θᵢₙ= 45° θₒᵤₜ= 30° ϕₒᵤₜ= 60 θ30 ϕ60"},
 "layer": [
  {"data": {"values": [{}]}, "mark": {"type": "rect", "color": "white"}, "encoding": {"x": {"datum": 4.07, "type": "quantitative", "axis": null}, "x2": {"datum": 27}, "y": {"datum": 1.17, "type": "quantitative", "axis": null}, "y2": {"datum": -0.353}}},
  {"data": {"name": "p2E"}, "mark": {"type": "line", "color": "#000000", "strokeWidth": 1.2}, "encoding": {
    "x": {"field": "x", "type": "quantitative", "scale": {"domain": [8, 25], "nice": false, "zero": false}, "axis": {"zindex": 2, "orient": "bottom", "values": [10, 15, 20, 25], "tickSize": -5, "labelPadding": 8, "title": "TOF(μs)", "titlePadding": 6}},
    "y": {"field": "y", "type": "quantitative", "scale": {"domain": [-0.1, 1.065], "nice": false, "zero": false}, "axis": {"zindex": 2, "orient": "left", "values": [0, 0.2, 0.4, 0.6, 0.8, 1], "format": ".1f", "tickSize": -5, "labelPadding": 7, "title": "A. U.", "titlePadding": 6}}}},
  {"data": {"name": "p2A"}, "mark": {"type": "line", "color": "#0000ff", "strokeWidth": 1.4}, "encoding": {
    "x": {"field": "x", "type": "quantitative", "axis": {"zindex": 2, "orient": "bottom", "values": [8,9,11,12,13,14,16,17,18,19,21,22,23,24], "tickSize": -2.5, "labels": false, "domain": false, "title": null}},
    "y": {"field": "y", "type": "quantitative", "axis": {"zindex": 2, "orient": "left", "values": [-0.05,0.05,0.1,0.15,0.25,0.3,0.35,0.45,0.5,0.55,0.65,0.7,0.75,0.85,0.9,0.95,1.05], "tickSize": -2.5, "labels": false, "domain": false, "title": null}}}},
  {"data": {"name": "p2F"}, "mark": {"type": "line", "color": "#ff0000", "strokeWidth": 1.2}, "encoding": {
    "x": {"field": "x", "type": "quantitative", "axis": {"zindex": 2, "orient": "top", "values": [10, 15, 20, 25], "tickSize": -5, "labels": false, "title": null}},
    "y": {"field": "y", "type": "quantitative", "axis": {"zindex": 2, "orient": "right", "values": [0, 0.2, 0.4, 0.6, 0.8, 1], "tickSize": -5, "labels": false, "title": null}}}},
  {"data": {"name": "lab"}, "transform": [{"filter": "datum.p == 2"}], "mark": {"type": "text", "align": "left", "baseline": "alphabetic", "font": "Lato", "fontWeight": "bold", "fontSize": 17.5}, "encoding": {
    "x": {"field": "x", "type": "quantitative", "axis": {"zindex": 2, "orient": "top", "values": [8,9,11,12,13,14,16,17,18,19,21,22,23,24], "tickSize": -2.5, "labels": false, "domain": false, "title": null}},
    "y": {"field": "y", "type": "quantitative", "axis": {"zindex": 2, "orient": "right", "values": [-0.05,0.05,0.1,0.15,0.25,0.3,0.35,0.45,0.5,0.55,0.65,0.7,0.75,0.85,0.9,0.95,1.05], "tickSize": -2.5, "labels": false, "domain": false, "title": null}},
    "text": {"field": "t"},
    "color": {"field": "t", "type": "nominal", "scale": {"domain": ["EXP", "MD ADIABATIC", "MD W/ FRICTION"], "range": ["#000000", "#1414f0", "#c00000"]}, "legend": null}}}
 ],
 "resolve": {"axis": {"x": "independent", "y": "independent"}}
}
], "spacing": 17, "resolve": {"scale": {"x": "independent", "y": "independent"}}},
{"hconcat": [
{"width": 281, "height": 173,
 "title": {"text": "Eᵢₙc = 3.13 eV θᵢₙ= 45° θₒᵤₜ= 45° ϕₒᵤₜ= 60 θ45 ϕ60", "offset": -11},
 "layer": [
  {"data": {"values": [{}]}, "mark": {"type": "rect", "color": "white"}, "encoding": {"x": {"datum": 5.33, "type": "quantitative", "axis": null}, "x2": {"datum": 25.85}, "y": {"datum": 1.205, "type": "quantitative", "axis": null}, "y2": {"datum": -0.5}}},
  {"data": {"name": "p3E"}, "mark": {"type": "line", "color": "#000000", "strokeWidth": 1.2}, "encoding": {
    "x": {"field": "x", "type": "quantitative", "scale": {"domain": [8, 25], "nice": false, "zero": false}, "axis": {"zindex": 2, "orient": "bottom", "values": [10, 15, 20, 25], "tickSize": -5, "labelPadding": 8, "title": "TOF(μs)", "titlePadding": 6}},
    "y": {"field": "y", "type": "quantitative", "scale": {"domain": [-0.1, 1.093], "nice": false, "zero": false}, "axis": {"zindex": 2, "orient": "left", "values": [0, 0.2, 0.4, 0.6, 0.8, 1], "format": ".1f", "tickSize": -5, "labelPadding": 7, "title": "A. U.", "titlePadding": 6}}}},
  {"data": {"name": "p3A"}, "mark": {"type": "line", "color": "#0000ff", "strokeWidth": 1.4}, "encoding": {
    "x": {"field": "x", "type": "quantitative", "axis": {"zindex": 2, "orient": "bottom", "values": [8,9,11,12,13,14,16,17,18,19,21,22,23,24], "tickSize": -2.5, "labels": false, "domain": false, "title": null}},
    "y": {"field": "y", "type": "quantitative", "axis": {"zindex": 2, "orient": "left", "values": [-0.05,0.05,0.1,0.15,0.25,0.3,0.35,0.45,0.5,0.55,0.65,0.7,0.75,0.85,0.9,0.95,1.05], "tickSize": -2.5, "labels": false, "domain": false, "title": null}}}},
  {"data": {"name": "p3F"}, "mark": {"type": "line", "color": "#ff0000", "strokeWidth": 1.2}, "encoding": {
    "x": {"field": "x", "type": "quantitative", "axis": {"zindex": 2, "orient": "top", "values": [10, 15, 20, 25], "tickSize": -5, "labels": false, "title": null}},
    "y": {"field": "y", "type": "quantitative", "axis": {"zindex": 2, "orient": "right", "values": [0, 0.2, 0.4, 0.6, 0.8, 1], "tickSize": -5, "labels": false, "title": null}}}},
  {"data": {"name": "lab"}, "transform": [{"filter": "datum.p == 3"}], "mark": {"type": "text", "align": "left", "baseline": "alphabetic", "font": "Lato", "fontWeight": "bold", "fontSize": 17.5}, "encoding": {
    "x": {"field": "x", "type": "quantitative", "axis": {"zindex": 2, "orient": "top", "values": [8,9,11,12,13,14,16,17,18,19,21,22,23,24], "tickSize": -2.5, "labels": false, "domain": false, "title": null}},
    "y": {"field": "y", "type": "quantitative", "axis": {"zindex": 2, "orient": "right", "values": [-0.05,0.05,0.1,0.15,0.25,0.3,0.35,0.45,0.5,0.55,0.65,0.7,0.75,0.85,0.9,0.95,1.05], "tickSize": -2.5, "labels": false, "domain": false, "title": null}},
    "text": {"field": "t"},
    "color": {"field": "t", "type": "nominal", "scale": {"domain": ["EXP", "MD ADIABATIC", "MD W/ FRICTION"], "range": ["#000000", "#1414f0", "#c00000"]}, "legend": null}}}
 ],
 "resolve": {"axis": {"x": "independent", "y": "independent"}}
},
{"width": 281, "height": 173,
 "title": {"text": "Eᵢₙc = 3.13 eV θᵢₙ= 45° θₒᵤₜ= 60° ϕₒᵤₜ= 60 θ60 ϕ60", "offset": -11},
 "layer": [
  {"data": {"values": [{}]}, "mark": {"type": "rect", "color": "white"}, "encoding": {"x": {"datum": 4.07, "type": "quantitative", "axis": null}, "x2": {"datum": 27}, "y": {"datum": 1.205, "type": "quantitative", "axis": null}, "y2": {"datum": -0.5}}},
  {"data": {"name": "p4E"}, "mark": {"type": "line", "color": "#000000", "strokeWidth": 1.2}, "encoding": {
    "x": {"field": "x", "type": "quantitative", "scale": {"domain": [8, 25], "nice": false, "zero": false}, "axis": {"zindex": 2, "orient": "bottom", "values": [10, 15, 20, 25], "tickSize": -5, "labelPadding": 8, "title": "TOF(μs)", "titlePadding": 6}},
    "y": {"field": "y", "type": "quantitative", "scale": {"domain": [-0.1, 1.093], "nice": false, "zero": false}, "axis": {"zindex": 2, "orient": "left", "values": [0, 0.2, 0.4, 0.6, 0.8, 1], "format": ".1f", "tickSize": -5, "labelPadding": 7, "title": "A. U.", "titlePadding": 6}}}},
  {"data": {"name": "p4A"}, "mark": {"type": "line", "color": "#0000ff", "strokeWidth": 1.4}, "encoding": {
    "x": {"field": "x", "type": "quantitative", "axis": {"zindex": 2, "orient": "bottom", "values": [8,9,11,12,13,14,16,17,18,19,21,22,23,24], "tickSize": -2.5, "labels": false, "domain": false, "title": null}},
    "y": {"field": "y", "type": "quantitative", "axis": {"zindex": 2, "orient": "left", "values": [-0.05,0.05,0.1,0.15,0.25,0.3,0.35,0.45,0.5,0.55,0.65,0.7,0.75,0.85,0.9,0.95,1.05], "tickSize": -2.5, "labels": false, "domain": false, "title": null}}}},
  {"data": {"name": "p4F"}, "mark": {"type": "line", "color": "#ff0000", "strokeWidth": 1.2}, "encoding": {
    "x": {"field": "x", "type": "quantitative", "axis": {"zindex": 2, "orient": "top", "values": [10, 15, 20, 25], "tickSize": -5, "labels": false, "title": null}},
    "y": {"field": "y", "type": "quantitative", "axis": {"zindex": 2, "orient": "right", "values": [0, 0.2, 0.4, 0.6, 0.8, 1], "tickSize": -5, "labels": false, "title": null}}}},
  {"data": {"name": "lab"}, "transform": [{"filter": "datum.p == 4"}], "mark": {"type": "text", "align": "left", "baseline": "alphabetic", "font": "Lato", "fontWeight": "bold", "fontSize": 17.5}, "encoding": {
    "x": {"field": "x", "type": "quantitative", "axis": {"zindex": 2, "orient": "top", "values": [8,9,11,12,13,14,16,17,18,19,21,22,23,24], "tickSize": -2.5, "labels": false, "domain": false, "title": null}},
    "y": {"field": "y", "type": "quantitative", "axis": {"zindex": 2, "orient": "right", "values": [-0.05,0.05,0.1,0.15,0.25,0.3,0.35,0.45,0.5,0.55,0.65,0.7,0.75,0.85,0.9,0.95,1.05], "tickSize": -2.5, "labels": false, "domain": false, "title": null}},
    "text": {"field": "t"},
    "color": {"field": "t", "type": "nominal", "scale": {"domain": ["EXP", "MD ADIABATIC", "MD W/ FRICTION"], "range": ["#000000", "#1414f0", "#c00000"]}, "legend": null}}}
 ],
 "resolve": {"axis": {"x": "independent", "y": "independent"}}
}
], "spacing": 17, "resolve": {"scale": {"x": "independent", "y": "independent"}}}
]
}
